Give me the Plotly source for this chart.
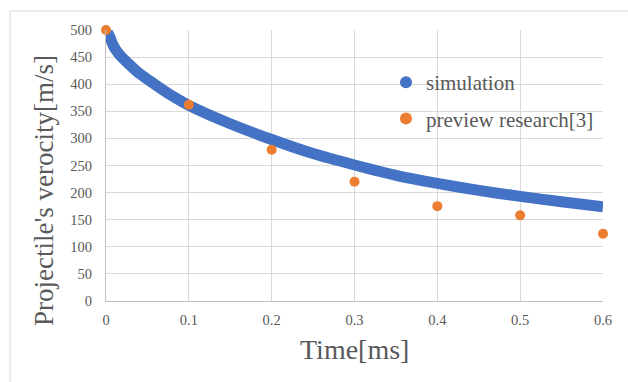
import plotly.graph_objects as go

# Simulation curve
sim_time = [0, 0.002, 0.005, 0.008, 0.012, 0.016, 0.025, 0.04, 0.05, 0.075, 0.1,
            0.15, 0.2, 0.25, 0.3, 0.35, 0.4, 0.45, 0.5, 0.55, 0.6]
sim_vel = [500, 495, 486, 474, 463, 455, 441, 420, 409, 383, 361,
           327, 298, 272, 251, 232, 217, 204, 193, 183, 174]

# Preview research [3]
ref_time = [0, 0.1, 0.2, 0.3, 0.4, 0.5, 0.6]
ref_vel = [500, 362, 279, 220, 175, 158, 124]

x_ticks = [0, 0.1, 0.2, 0.3, 0.4, 0.5, 0.6]
x_labels = ["0", "0.1", "0.2", "0.3", "0.4", "0.5", "0.6"]
y_ticks = [0, 50, 100, 150, 200, 250, 300, 350, 400, 450, 500]

BLUE = "#4472C4"
ORANGE = "#ED7D31"
TXT = "#595959"
FONT = "Liberation Serif"

W, H = 628, 382
L, R, T, B = 106, 25, 30, 81
pw, ph = W - L - R, H - T - B

def px(xp):
    return (xp - L) / pw

def py(yp):
    return (H - B - yp) / ph

fig = go.Figure()
fig.add_trace(go.Scatter(x=sim_time, y=sim_vel, mode="lines",
                         line=dict(color=BLUE, width=11, shape="spline", smoothing=0.6),
                         showlegend=False, cliponaxis=False, hoverinfo="skip"))
fig.add_trace(go.Scatter(x=[None], y=[None], mode="markers", name="simulation",
                         marker=dict(size=10, color=BLUE), legendgroup="a"))
fig.add_trace(go.Scatter(x=ref_time, y=ref_vel, mode="markers", name="preview research[3]",
                         marker=dict(size=10, color=ORANGE, line=dict(width=0)),
                         cliponaxis=False, legendgroup="b"))

fig.add_shape(type="rect", xref="paper", yref="paper",
              x0=px(10), x1=px(640), y0=py(395), y1=py(11),
              line=dict(color="#D9D9D9", width=1), layer="below")

fig.add_annotation(text="Projectile's verocity[m/s]", xref="paper", yref="paper",
                   x=px(44), y=py(191), textangle=-90, showarrow=False,
                   xanchor="center", yanchor="middle",
                   font=dict(family=FONT, size=27, color=TXT))
fig.add_annotation(text="Time[ms]", xref="paper", yref="paper",
                   x=px(354.5), y=py(349), showarrow=False,
                   xanchor="center", yanchor="middle",
                   font=dict(family=FONT, size=28, color=TXT))

fig.update_layout(
    width=W, height=H,
    margin=dict(l=L, r=R, t=T, b=B),
    paper_bgcolor="white", plot_bgcolor="white",
    font=dict(family=FONT, color=TXT),
    showlegend=True,
    legend=dict(x=px(386), y=py(62), xanchor="left", yanchor="top",
                bgcolor="rgba(0,0,0,0)", font=dict(family=FONT, size=21, color=TXT),
                traceorder="grouped", tracegroupgap=6, itemsizing="constant"),
    xaxis=dict(range=[0, 0.6], tickvals=x_ticks, ticktext=x_labels,
               showgrid=True, gridcolor="#D9D9D9", gridwidth=1,
               showline=True, linecolor="#BFBFBF", linewidth=1,
               zeroline=False, ticks="", ticklabelstandoff=6,
               tickfont=dict(family=FONT, size=14.5, color=TXT)),
    yaxis=dict(range=[0, 500], tickvals=y_ticks,
               showgrid=True, gridcolor="#D9D9D9", gridwidth=1,
               showline=True, linecolor="#BFBFBF", linewidth=1,
               zeroline=False, ticks="", ticklabelstandoff=10,
               tickfont=dict(family=FONT, size=14.5, color=TXT)),
)

fig.write_html("out.html", config={"displayModeBar": False},
               post_script="document.body.style.margin='0';")
